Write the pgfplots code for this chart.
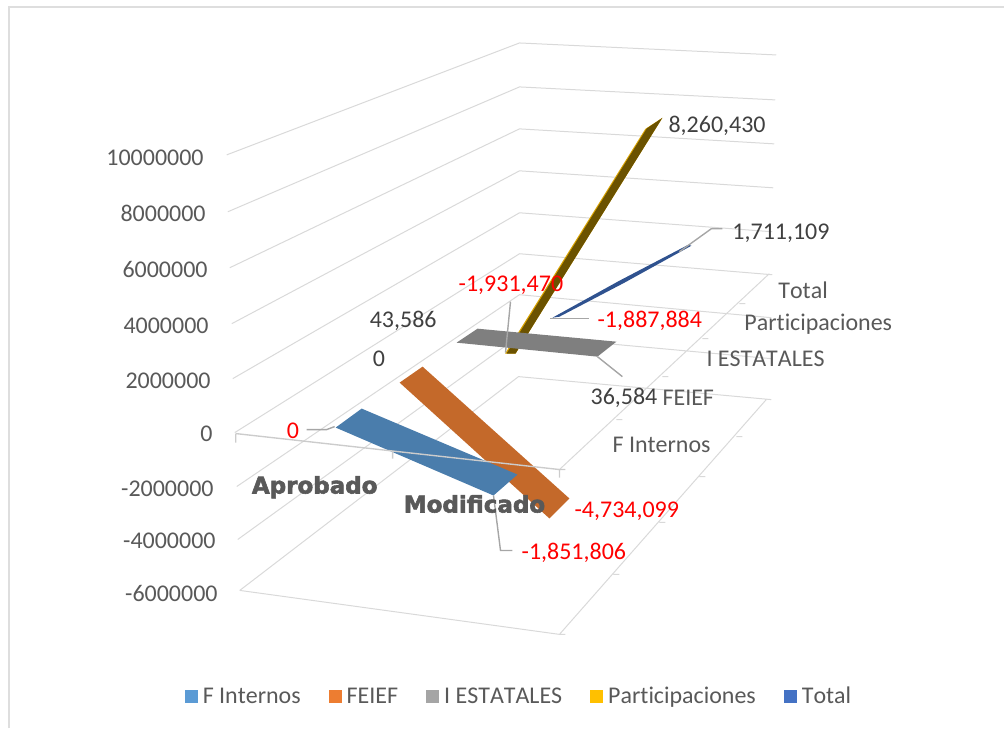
\documentclass[border=0pt]{standalone}
\usepackage{fontspec}
\setmainfont{Carlito}[Ligatures=NoCommon,Kerning=Off]
\newfontfamily\heavyfont{DejaVu Sans}[BoldFeatures={FakeBold=2.5}]
\usepackage{pgfplots}
\pgfplotsset{compat=1.18}
\definecolor{gridc}{HTML}{D9D9D9}
\definecolor{framec}{HTML}{DEDEDE}
\definecolor{leader}{HTML}{A6A6A6}
\definecolor{tickc}{HTML}{595959}
\definecolor{datac}{HTML}{404040}
\definecolor{blueS}{HTML}{4A7DAC}
\definecolor{orangeS}{HTML}{C4692A}
\definecolor{grayS}{HTML}{7F7F7F}
\definecolor{goldS}{HTML}{6B5200}
\definecolor{goldE}{HTML}{D9A300}
\definecolor{navyS}{HTML}{2F528F}
\definecolor{legA}{HTML}{5B9BD5}
\definecolor{legB}{HTML}{ED7D31}
\definecolor{legC}{HTML}{A5A5A5}
\definecolor{legD}{HTML}{FFC000}
\definecolor{legE}{HTML}{4472C4}
\newcommand{\lblfont}{\fontsize{24}{28}\selectfont}
\tikzset{
  val/.style={anchor=base west,inner sep=0pt,font=\lblfont,text=datac},
  neg/.style={anchor=base west,inner sep=0pt,font=\lblfont,text=red},
  cat/.style={anchor=base west,inner sep=0pt,font=\lblfont,text=tickc},
  ytk/.style={anchor=base east,inner sep=0pt,font=\lblfont,text=tickc},
  heavy/.style={anchor=base west,inner sep=0pt,text=tickc,font=\heavyfont\bfseries\fontsize{23}{26}\selectfont},
}
\begin{document}
\begin{tikzpicture}
\begin{axis}[
  scale only axis,width=1005pt,height=729pt,
  xmin=0,xmax=1005,ymin=0,ymax=729,y dir=reverse,
  hide axis,clip=false,unbounded coords=jump,
  gridl/.style={forget plot,color=gridc,line width=1pt},
  lead/.style={forget plot,color=leader,line width=1.4pt},
  shape3d/.style={forget plot,draw=none,fill=#1},
  legend columns=5,
  legend style={draw=none,fill=none,font=\lblfont,text=tickc,at={(axis cs:519.5,697)},anchor=center,
    /tikz/every even column/.append style={column sep=26pt},
    /tikz/every odd column/.append style={column sep=3pt}},
  legend image code/.code={\fill[#1,draw=none] (0pt,-6.5pt) rectangle (13pt,6.5pt);},
]
% keeps the page at the full image size
\addplot[forget plot,draw=none] coordinates {(0,0) (1005,729)};
% chart frame
\addplot[forget plot,color=framec,line width=2pt] coordinates {(9,729) (9,7) (1005,7)};

% walls, floor
\addplot[gridl] coordinates {
  (227,155) (520,43) (777,55) (nan,nan)
  (228,212) (520,87) (776,100) (nan,nan)
  (230,268) (520,129) (775,144) (nan,nan)
  (232,324) (520,171) (774,188) (nan,nan)
  (233,379) (520,213) (773,232) (nan,nan)
  (235,433) (520,254) (773,275) (nan,nan)
  (237,487) (520,295) (772,318) (nan,nan)
  (238,540) (520,336) (772,359) (nan,nan)
  (240,591) (519,377) (772,400) (nan,nan)
  (240,591) (560,635) (767,400) (nan,nan)
  (560,470) (770,274) (nan,nan)
  (560,635) (566,635) (nan,nan)
  (614,575) (620,575) (nan,nan)
  (660,523) (666,523) (nan,nan)
  (700,477) (706,477) (nan,nan)
  (737,437) (743,437) (nan,nan)
  (617,420) (623,420) (nan,nan)
  (663,377) (669,377) (nan,nan)
  (703,339) (709,339) (nan,nan)
  (740,304) (746,304)
};

% series
\addplot[shape3d=goldE] coordinates {(505.5,354) (646,129) (663,118) (516,354)};
\addplot[shape3d=goldS] coordinates {(507,354) (647.5,128.5) (663,118) (516,354)};
\addplot[shape3d=navyS] coordinates {(553,318) (620,281) (689,245) (692,246) (625,283) (560,317)};
\addplot[shape3d=grayS] coordinates {(457,343) (478,329) (617,342) (598,357)};
\addplot[shape3d=orangeS] coordinates {(400,383) (423,367) (570,499) (550,519)};
\addplot[shape3d=blueS] coordinates {(336,428) (362,409) (518,475) (494,496)};

% front axis over the series
\addplot[forget plot,color=gridc!85!gray,line width=1.4pt] coordinates {
  (236,434) (560,470) (nan,nan)
  (236,434) (236,443) (nan,nan)
  (393,452) (393,459) (nan,nan)
  (560,470) (560,478) (nan,nan)
  (560,470) (566,470)};

% leader lines
\addplot[lead] coordinates {(307,430) (327,430) (335,427)};
\addplot[lead] coordinates {(511,302) (506,353)};
\addplot[lead] coordinates {(551,319) (590,319)};
\addplot[lead] coordinates {(598,357) (623,377)};
\addplot[lead] coordinates {(494,496) (501,551) (513,551)};
\addplot[lead] coordinates {(680,252) (712,229) (723,229)};

% legend swatches
\addlegendimage{fill=legA}
\addlegendentry{F Internos}
\addlegendimage{fill=legB}
\addlegendentry{FEIEF}
\addlegendimage{fill=legC}
\addlegendentry{I ESTATALES}
\addlegendimage{fill=legD}
\addlegendentry{Participaciones}
\addlegendimage{fill=legE}
\addlegendentry{Total}

% value scale
\node[ytk] at (axis cs:204,166) {10000000};
\node[ytk] at (axis cs:206,222) {8000000};
\node[ytk] at (axis cs:208,278) {6000000};
\node[ytk] at (axis cs:209,334) {4000000};
\node[ytk] at (axis cs:211,389) {2000000};
\node[ytk] at (axis cs:213,442) {0};
\node[ytk] at (axis cs:214,497) {-2000000};
\node[ytk] at (axis cs:216,549) {-4000000};
\node[ytk] at (axis cs:218,602) {-6000000};

% series names along the depth axis
\node[cat] at (axis cs:779,299) {Total};
\node[cat] at (axis cs:745,331) {Participaciones};
\node[cat] at (axis cs:707,367) {I ESTATALES};
\node[cat] at (axis cs:663,406) {FEIEF};
\node[cat] at (axis cs:613,453) {F Internos};

% categories
\node[heavy] at (axis cs:252,494) {Aprobado};
\node[heavy] at (axis cs:404,513) {Modificado};

% data labels
\node[val] at (axis cs:669,133) {8,260,430};
\node[val] at (axis cs:733,240) {1,711,109};
\node[neg] at (axis cs:598,328) {-1,887,884};
\node[neg] at (axis cs:459,292) {-1,931,470};
\node[val] at (axis cs:370,328) {43,586};
\node[val] at (axis cs:373,367) {0};
\node[neg] at (axis cs:287,439) {0};
\node[val] at (axis cs:591,405) {36,584};
\node[neg] at (axis cs:575,518) {-4,734,099};
\node[neg] at (axis cs:522,560) {-1,851,806};
\end{axis}
\end{tikzpicture}
\end{document}
